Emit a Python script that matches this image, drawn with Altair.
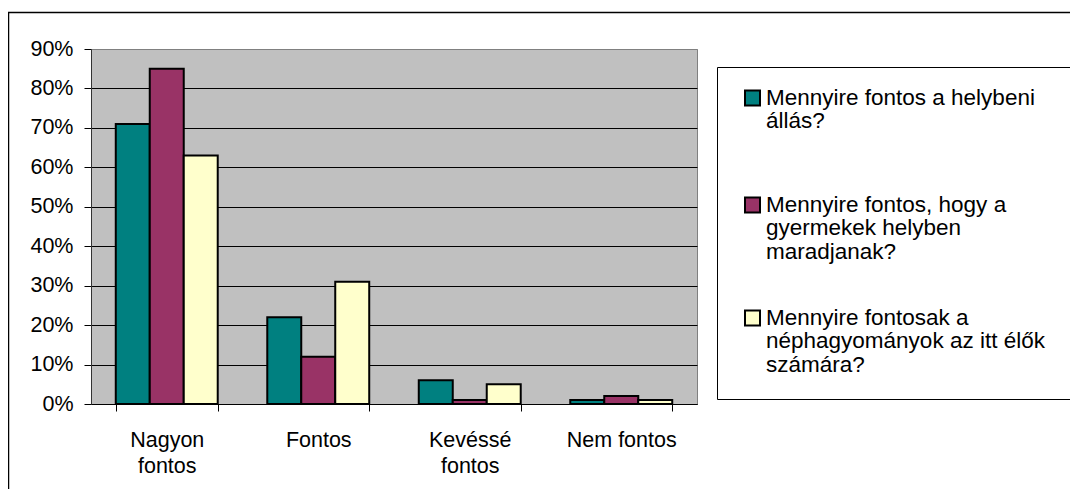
import altair as alt
import pandas as pd

categories = ["Nagyon fontos", "Fontos", "Kevéssé fontos", "Nem fontos"]
series = [
    "Mennyire fontos a helybeni állás?",
    "Mennyire fontos, hogy a gyermekek helyben maradjanak?",
    "Mennyire fontosak a néphagyományok az itt élők számára?",
]
s1_values = [0.71, 0.22, 0.06, 0.01]
s2_values = [0.85, 0.12, 0.01, 0.02]
s3_values = [0.63, 0.31, 0.05, 0.01]
legend_lines = [
    ["Mennyire fontos a helybeni", "állás?"],
    ["Mennyire fontos, hogy a", "gyermekek helyben", "maradjanak?"],
    ["Mennyire fontosak a", "néphagyományok az itt élők", "számára?"],
]
y_ticks = [0, 0.1, 0.2, 0.3, 0.4, 0.5, 0.6, 0.7, 0.8, 0.9]
colors = ["#008080", "#993366", "#FFFFCC"]

rows = []
for s, vals in zip(series, [s1_values, s2_values, s3_values]):
    for c, v in zip(categories, vals):
        rows.append({"category": c, "series": s, "value": v})
df = pd.DataFrame(rows)

# legend layout (pixel rows of the first line of each entry, relative to the plot top)
LEGEND_ROWS = [49, 156, 269]
LEGEND_FS = 22.5
legend_records = [
    {"series": s, "lines": l, "sy": r, "ty": r - 0.49 * LEGEND_FS}
    for s, l, r in zip(series, legend_lines, LEGEND_ROWS)
]

FONT = "Liberation Sans"
AX_FS = 21.5
color_scale = alt.Scale(domain=series, range=colors)

bars = alt.Chart(df).mark_bar(stroke="black", strokeWidth=2).encode(
    x=alt.X(
        "category:N",
        sort=categories,
        scale=alt.Scale(paddingInner=0.327, paddingOuter=0.1635),
        axis=alt.Axis(
            title=None,
            labelAngle=0,
            labelFont=FONT,
            labelFontSize=AX_FS,
            labelColor="black",
            labelPadding=18,
            labelLineHeight=26.5,
            labelExpr="datum.label === 'Nem fontos' ? datum.label : split(datum.label, ' ')",
            tickBand="extent",
            tickColor="black",
            tickSize=7,
            domainColor="black",
            grid=False,
        ),
    ),
    xOffset=alt.XOffset("series:N", sort=series, scale=alt.Scale(paddingInner=0, paddingOuter=0)),
    y=alt.Y(
        "value:Q",
        scale=alt.Scale(domain=[0, 0.9], nice=False),
        axis=alt.Axis(
            title=None,
            values=y_ticks,
            format=".0%",
            labelFont=FONT,
            labelFontSize=AX_FS,
            labelColor="black",
            labelPadding=11,
            tickColor="black",
            tickSize=7,
            domainColor="#333333",
            grid=True,
            gridColor={"condition": {"test": "datum.value >= 0.89", "value": "#808080"}, "value": "#000000"},
            gridWidth=1,
        ),
    ),
    color=alt.Color("series:N", sort=series, scale=color_scale, legend=None),
)

legend_sym = alt.Chart(alt.Data(values=legend_records)).mark_square(
    size=225, stroke="black", strokeWidth=2, opacity=1
).encode(
    x=alt.value(661.5),
    y=alt.Y("sy:Q", scale=None),
    color=alt.Color("series:N", scale=color_scale, legend=None),
)

legend_txt = alt.Chart(alt.Data(values=legend_records)).mark_text(
    align="left", baseline="top", font=FONT, fontSize=LEGEND_FS, lineHeight=23.5, color="black"
).encode(
    x=alt.value(675),
    y=alt.Y("ty:Q", scale=None),
    text=alt.Text("lines:N"),
)

frame_data = alt.Data(values=[{"k": 1}])
legend_box = alt.Chart(frame_data).mark_rect(filled=False, stroke="black", strokeWidth=1).encode(
    x=alt.value(626.5), x2=alt.value(1000), y=alt.value(18.5), y2=alt.value(350.5)
)
outer_box = alt.Chart(frame_data).mark_rect(filled=False, stroke="black", strokeWidth=1.5).encode(
    x=alt.value(-82.5), x2=alt.value(1100), y=alt.value(-36.5), y2=alt.value(600)
)

chart = alt.layer(bars, legend_box, outer_box, legend_sym, legend_txt).resolve_scale(
    y="independent"
).properties(
    width=606,
    height=355,
    autosize=alt.AutoSizeParams(type="none"),
    padding={"left": 83, "top": 41, "right": 373, "bottom": 85},
    background="white",
).configure_view(fill="#C0C0C0", stroke="#808080", strokeWidth=1)

chart.save("out.html", embed_options={"renderer": "svg", "actions": False})
